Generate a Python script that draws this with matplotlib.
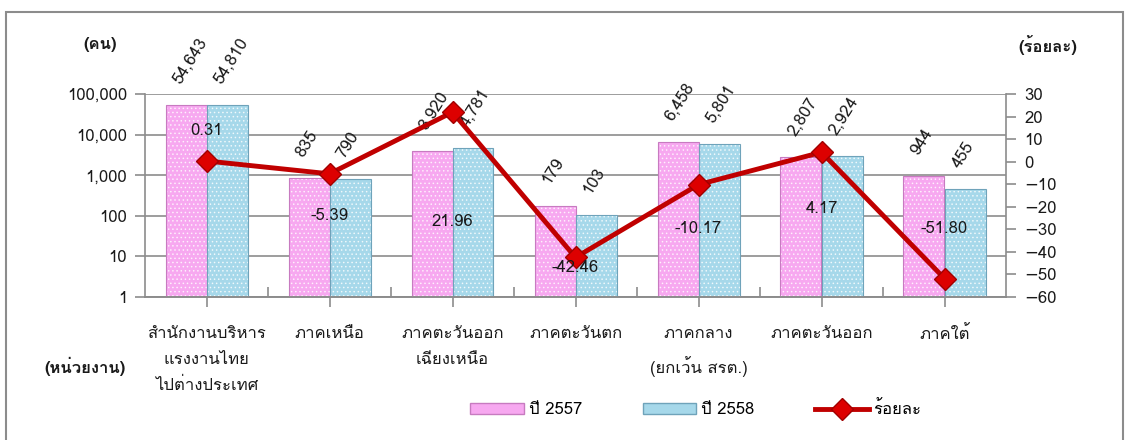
import numpy as np
import matplotlib
matplotlib.use('Agg')
import matplotlib.pyplot as plt
from matplotlib import font_manager
from matplotlib.ft2font import FT2Font
from matplotlib.patches import Patch, Rectangle
from matplotlib.lines import Line2D
from matplotlib.ticker import FuncFormatter, FixedLocator, NullLocator

# ---- data ----
categories = ['สำนักงานบริหาร\nแรงงานไทย\nไปต่างประเทศ', 'ภาคเหนือ',
              'ภาคตะวันออก\nเฉียงเหนือ', 'ภาคตะวันตก',
              'ภาคกลาง\n(ยกเว้น สรต.)', 'ภาคตะวันออก', 'ภาคใต้']
y2557 = [54643, 835, 3920, 179, 6458, 2807, 944]
y2558 = [54810, 790, 4781, 103, 5801, 2924, 455]
pct = [0.31, -5.39, 21.96, -42.46, -10.17, 4.17, -51.80]
series_names = ['ปี 2557', 'ปี 2558', 'ร้อยละ']

# label offsets for the percent labels (pixels)
pct_dy = [30, -42, -110, -11, -44, -57, 50]

# ---- font with Thai glyphs, if any ----
thai = []
for fe in font_manager.fontManager.ttflist:
    try:
        cm = FT2Font(fe.fname).get_charmap()
    except Exception:
        continue
    if 0x0E01 in cm and 0x0E48 in cm and fe.name not in thai:
        thai.append(fe.name)
plt.rcParams['font.family'] = thai[:1] + ['DejaVu Sans']
plt.rcParams['hatch.linewidth'] = 0.6

W, H = 1129, 440
fig = plt.figure(figsize=(W / 100, H / 100), dpi=100)


def fx(px):
    return px / W


def fy(py):
    return 1 - py / H


ax = fig.add_axes([fx(145), fy(297), fx(1006) - fx(145), fy(94) - fy(297)])
ax2 = ax.twinx()

pink, pink_edge = '#F7A8F0', '#C77BC0'
blue, blue_edge = '#A6D8EA', '#6FA3BA'
grey = '#8C8C8C'
txt = '#1A1A1A'

x = np.arange(len(categories))
w = 1 / 3

ax.set_yscale('log')
for xs, vals, fc, ec in [(x - w / 2, y2557, pink, pink_edge), (x + w / 2, y2558, blue, blue_edge)]:
    ax.bar(xs, vals, w, color=fc, edgecolor=(1, 1, 1, 0.75), hatch='....', linewidth=0, zorder=2)
    ax.bar(xs, vals, w, color='none', edgecolor=ec, linewidth=0.8, zorder=3)
ax.set_ylim(1, 100000)
ax.set_xlim(-0.5, len(categories) - 0.5)

# value labels
for xs, vals in [(x - w / 2, y2557), (x + w / 2, y2558)]:
    for xi, v in zip(xs, vals):
        ax.annotate(f'{v:,}', (xi, v), xytext=(-2, 18), textcoords='offset pixels',
                    rotation=58, rotation_mode='anchor', ha='left', va='bottom',
                    fontsize=12, color=txt, zorder=5, annotation_clip=False)

ax.yaxis.set_major_locator(FixedLocator([1, 10, 100, 1000, 10000, 100000]))
ax.yaxis.set_minor_locator(NullLocator())
ax.yaxis.set_major_formatter(FuncFormatter(lambda v, p: f'{int(round(v)):,}'))
ax.yaxis.grid(True, color=grey, linewidth=1.2, zorder=0)
ax.set_axisbelow(True)

ax.set_xticks(x)
ax.set_xticklabels(categories, fontsize=12, color=txt, linespacing=1.8)
ax.set_xticks(x[:-1] + 0.5, minor=True)
ax.tick_params(axis='x', which='major', direction='out', length=7, color=grey, width=1.2, pad=14)
ax.tick_params(axis='x', which='minor', direction='in', length=7, color=grey, width=1.2)
ax.tick_params(axis='y', direction='out', length=7, color=grey, width=1.2, labelsize=12,
               labelcolor=txt, pad=6)

# percent line
ax2.plot(x, pct, color='#C00000', linewidth=3.5, marker='D', markersize=11,
         markerfacecolor='#DD0000', markeredgecolor='#A00000', zorder=4)
ax2.set_ylim(-60, 30)
ax2.set_yticks(np.arange(-60, 31, 10))
ax2.tick_params(axis='y', direction='out', length=7, color=grey, width=1.2, labelsize=12,
                labelcolor=txt, pad=6)
for xi, v, dy in zip(x, pct, pct_dy):
    ax2.annotate(f'{v:.2f}', (xi, v), xytext=(0, dy), textcoords='offset pixels',
                 ha='center', va='center', fontsize=12, color=txt, zorder=6)

for a in (ax, ax2):
    a.spines['top'].set_visible(False)
    for s in ('left', 'right', 'bottom'):
        a.spines[s].set_color(grey)
        a.spines[s].set_linewidth(1.2)
ax2.spines['left'].set_visible(False)
ax.spines['right'].set_visible(False)

# axis titles
fig.text(fx(100), fy(45), '(คน)', ha='center', va='center', fontsize=12, fontweight='bold', color=txt)
fig.text(fx(1048), fy(45), '(ร้อยละ)', ha='center', va='center', fontsize=12, fontweight='bold', color=txt)
fig.text(fx(85), fy(366), '(หน่วยงาน)', ha='center', va='center', fontsize=12, fontweight='bold', color=txt)

# legend
handles = [Patch(facecolor=pink, edgecolor=pink_edge),
           Patch(facecolor=blue, edgecolor=blue_edge),
           Line2D([], [], color='#C00000', linewidth=3.5, marker='D', markersize=11,
                  markerfacecolor='#DD0000', markeredgecolor='#A00000')]
fig.legend(handles, series_names, loc='center', bbox_to_anchor=(fx(696), fy(410)), ncol=3,
           frameon=False, fontsize=12, handlelength=3.2, handleheight=0.6,
           columnspacing=3.65, handletextpad=0.3)

# outer frame
fig.patches.append(Rectangle((fx(6), fy(445)), fx(1123) - fx(6), fy(12) - fy(445),
                             transform=fig.transFigure, fill=False, edgecolor=grey, linewidth=1.5))

fig.savefig('out.png', dpi=100)
